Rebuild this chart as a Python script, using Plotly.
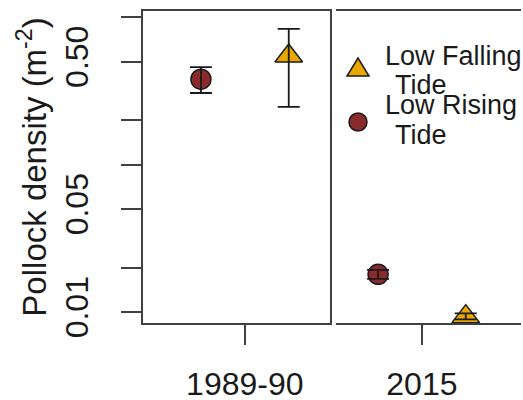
import plotly.graph_objects as go

# ---- data ----
periods = ["1989-90", "2015"]
rising_mean = [0.38, 0.018]
rising_lo = [0.306, 0.0168]
rising_hi = [0.459, 0.0193]
falling_mean = [0.545, 0.0093]
falling_lo = [0.246, 0.0089]
falling_hi = [0.832, 0.0098]
y_tickvals = [0.01, 0.02, 0.05, 0.1, 0.2, 0.5, 1.0]
y_ticktext = ["0.01", "", "0.05", "", "", "0.50", ""]

RED = "#8B2A2A"
GOLD = "#E8A800"
EDGE = "#1a1a1a"
LINE = "#404040"
FONT = "Liberation Sans, Arial, sans-serif"

W, H = 523, 400
ML, MR, MT, MB = 143, 2, 11, 77
PW, PH = W - ML - MR, H - MT - MB


def px(x):
    return (x - ML) / PW


def py(y):
    return (H - MB - y) / PH


fig = go.Figure()
axes = [("x", "y"), ("x2", "y")]
for i, (xa, ya) in enumerate(axes):
    fig.add_trace(go.Scatter(
        x=[1], y=[rising_mean[i]], xaxis=xa, yaxis=ya, mode="markers",
        marker=dict(symbol="circle", size=20, color=RED, line=dict(color=EDGE, width=1.5)),
        showlegend=False, cliponaxis=False))
    fig.add_trace(go.Scatter(
        x=[2], y=[falling_mean[i]], xaxis=xa, yaxis=ya, mode="markers",
        marker=dict(symbol="triangle-up", size=24, color=GOLD, line=dict(color=EDGE, width=1.5)),
        showlegend=False, cliponaxis=False))
    for xv, m, lo, hi in [(1, rising_mean[i], rising_lo[i], rising_hi[i]),
                          (2, falling_mean[i], falling_lo[i], falling_hi[i])]:
        fig.add_trace(go.Scatter(
            x=[xv], y=[m], xaxis=xa, yaxis=ya, mode="markers",
            marker=dict(size=1, color="rgba(0,0,0,0)"),
            error_y=dict(type="data", symmetric=False, array=[hi - m], arrayminus=[m - lo],
                         color=EDGE, thickness=1.8, width=11),
            showlegend=False, hoverinfo="skip", cliponaxis=False))

axis_common = dict(showline=True, mirror=True, linecolor=LINE, linewidth=2,
                   ticks="outside", ticklen=20, tickwidth=2, tickcolor=LINE,
                   showgrid=False, zeroline=False, automargin=False,
                   tickfont=dict(family=FONT, size=32, color="#1a1a1a"))

fig.update_layout(
    width=W, height=H,
    margin=dict(l=ML, r=MR, t=MT, b=MB),
    paper_bgcolor="white", plot_bgcolor="white",
    showlegend=False,
    font=dict(family=FONT, color="#1a1a1a"),
    xaxis=dict(domain=[0, px(330)], range=[0.34, 2.47], tickvals=[1.5], ticktext=[periods[0]],
               ticklabelstandoff=12, **axis_common),
    xaxis2=dict(domain=[px(336), 1], range=[0.52, 2.63], tickvals=[1.5], ticktext=[periods[1]],
                anchor="y", ticklabelstandoff=12, **axis_common),
    yaxis=dict(type="log", range=[-2.0746, 0.042], tickvals=y_tickvals, ticktext=y_ticktext,
               tickangle=-90, ticklabelstandoff=20,
               title=dict(text="Pollock density (m<sup>-2</sup>)",
                          font=dict(family=FONT, size=33, color="#1a1a1a"), standoff=3),
               **axis_common),
)

# legend (drawn manually to mirror the reference layout)
fig.add_shape(type="path", xref="paper", yref="paper", xsizemode="pixel", ysizemode="pixel",
              xanchor=px(358), yanchor=py(70), path="M -11,-6 L 11,-6 L 0,12 Z",
              fillcolor=GOLD, line=dict(color=EDGE, width=1.5))
fig.add_shape(type="circle", xref="paper", yref="paper", xsizemode="pixel", ysizemode="pixel",
              xanchor=px(358), yanchor=py(122), x0=-9, x1=9, y0=-9, y1=9,
              fillcolor=RED, line=dict(color=EDGE, width=1.5))
legend_lines = [("Low Falling", 383, 56), ("Tide", 393, 85),
                ("Low Rising", 383, 105), ("Tide", 393, 135)]
for txt, lx, ly in legend_lines:
    fig.add_annotation(text=txt, xref="paper", yref="paper", x=px(lx), y=py(ly),
                       xanchor="left", yanchor="middle", showarrow=False,
                       font=dict(family=FONT, size=27, color="#1a1a1a"))

fig.write_html("out.html", config={"displayModeBar": False},
               post_script="document.body.style.margin='0';document.body.style.overflow='hidden';")
